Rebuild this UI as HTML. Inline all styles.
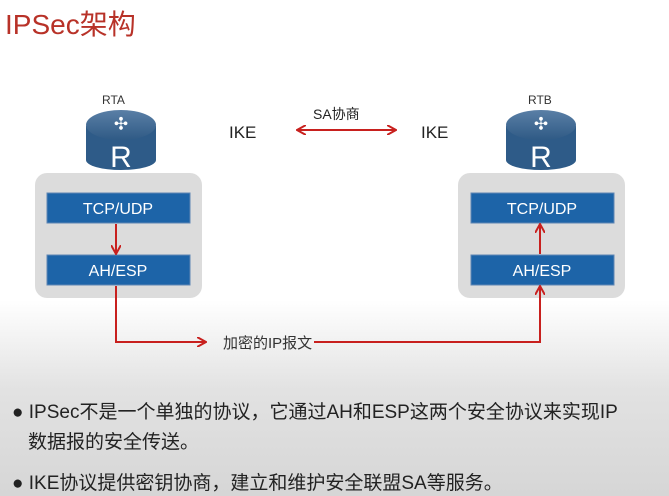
<!DOCTYPE html>
<html><head><meta charset="utf-8"><style>
body{margin:0;width:669px;height:496px;overflow:hidden;font-family:"Liberation Sans","Noto Sans CJK SC",sans-serif;
background:linear-gradient(to bottom,#fff 0,#fff 300px,#e2e2e2 390px,#d6d6d6 496px);position:relative}
.t{position:absolute;white-space:nowrap}
</style></head><body>
<div class="t" style="left:5px;top:3px;font-size:28px;color:#b83228">IPSec架构</div>
<svg width="669" height="496" style="position:absolute;left:0;top:0">
<defs>
<marker id="a" markerWidth="10" markerHeight="10" refX="8" refY="5" orient="auto" markerUnits="userSpaceOnUse"><path d="M0,0 L9,5 L0,10" fill="none" stroke="#c8201e" stroke-width="2"/></marker>
<linearGradient id="r" x1="0" x2="0" y1="0" y2="1"><stop offset="0" stop-color="#5a7fa6"/><stop offset="1" stop-color="#2f5a85"/></linearGradient>
</defs>
<g id="rt">
<path d="M86,126 L86,160 A35,10 0 0 0 156,160 L156,126 Z" fill="#2e5b88"/>
<ellipse cx="121" cy="125" rx="35" ry="15" fill="url(#r)"/>
<text x="121" y="125" font-size="17" fill="#fff" text-anchor="middle" dominant-baseline="middle">✣</text>
<text x="121" y="167" font-size="30" fill="#fff" text-anchor="middle" font-family="Liberation Sans">R</text>
</g>
<use href="#rt" x="420"/>
<rect x="35" y="173" width="167" height="125" rx="12" fill="#dcdcdc"/>
<rect x="458" y="173" width="167" height="125" rx="12" fill="#dcdcdc"/>
<g fill="#1d64a8" stroke="#5e86b5" stroke-width="1">
<rect x="47" y="193" width="143" height="30"/><rect x="47" y="255" width="143" height="30"/>
<rect x="471" y="193" width="143" height="30"/><rect x="471" y="255" width="143" height="30"/>
</g>
<g fill="#fff" font-size="16" text-anchor="middle">
<text x="118" y="214">TCP/UDP</text><text x="118" y="276">AH/ESP</text>
<text x="542" y="214">TCP/UDP</text><text x="542" y="276">AH/ESP</text>
</g>
<g stroke="#c8201e" stroke-width="2" fill="none">
<line x1="116" y1="224" x2="116" y2="253" marker-end="url(#a)"/>
<line x1="540" y1="254" x2="540" y2="225" marker-end="url(#a)"/>
<polyline points="116,286 116,342 205,342" marker-end="url(#a)"/>
<polyline points="314,342 540,342 540,287" marker-end="url(#a)"/>
<line x1="300" y1="130" x2="395" y2="130" marker-end="url(#a)"/>
<line x1="395" y1="130" x2="298" y2="130" marker-end="url(#a)"/>
</g>
</svg>
<div class="t" style="left:102px;top:93px;font-size:12px;color:#333">RTA</div>
<div class="t" style="left:528px;top:93px;font-size:12px;color:#333">RTB</div>
<div class="t" style="left:229px;top:123px;font-size:17px;color:#222">IKE</div>
<div class="t" style="left:421px;top:123px;font-size:17px;color:#222">IKE</div>
<div class="t" style="left:313px;top:104px;font-size:14px;color:#222">SA协商</div>
<div class="t" style="left:223px;top:332px;font-size:15px;color:#333">加密的IP报文</div>
<div class="t" style="left:12px;top:397px;font-size:19px;color:#222">●&nbsp;IPSec不是一个单独的协议，它通过AH和ESP这两个安全协议来实现IP</div>
<div class="t" style="left:28px;top:427px;font-size:19px;color:#222">数据报的安全传送。</div>
<div class="t" style="left:12px;top:468px;font-size:19px;color:#222">●&nbsp;IKE协议提供密钥协商，建立和维护安全联盟SA等服务。</div>
</body></html>
